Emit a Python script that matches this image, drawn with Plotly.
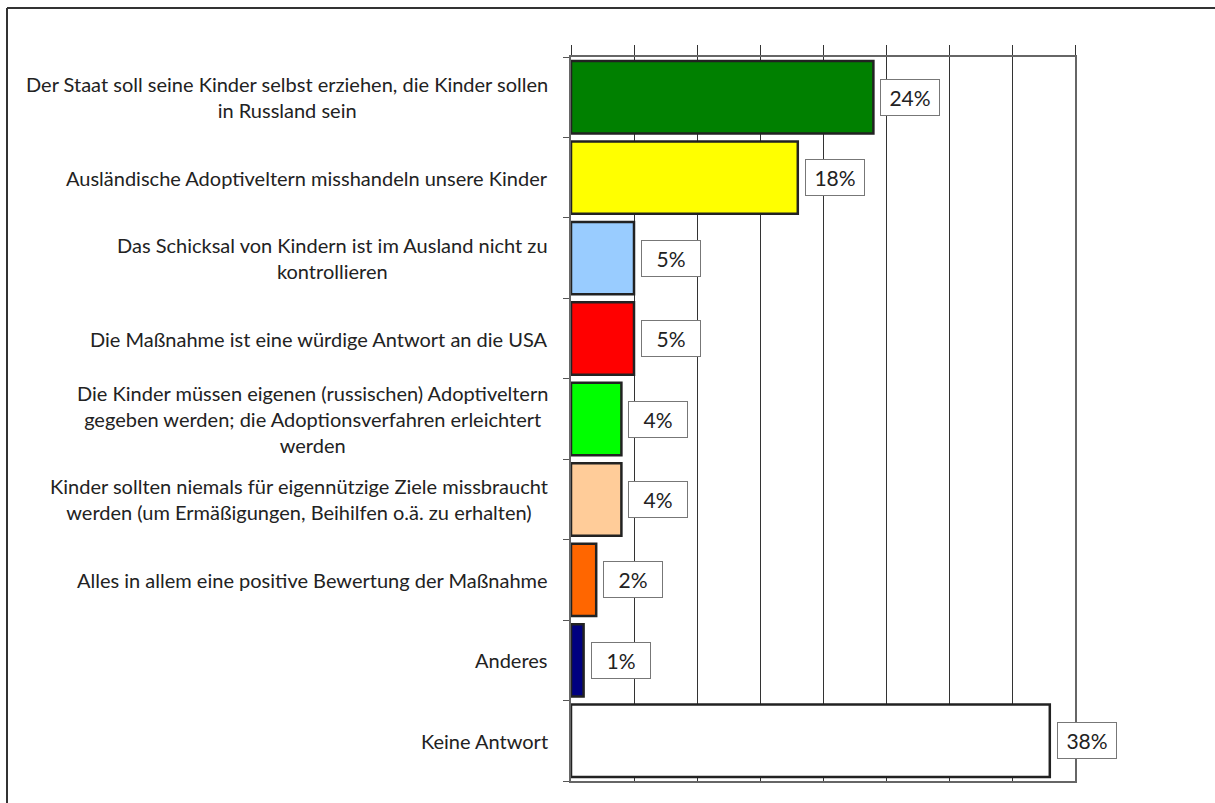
import plotly.graph_objects as go

categories = [
    "Der Staat soll seine Kinder selbst erziehen, die Kinder sollen<br>in Russland sein",
    "Ausländische Adoptiveltern misshandeln unsere Kinder",
    "Das Schicksal von Kindern ist im Ausland nicht zu<br>kontrollieren",
    "Die Maßnahme ist eine würdige Antwort an die USA",
    "Die Kinder müssen eigenen (russischen) Adoptiveltern<br>gegeben werden; die Adoptionsverfahren erleichtert<br>werden",
    "Kinder sollten niemals für eigennützige Ziele missbraucht<br>werden (um Ermäßigungen, Beihilfen o.ä. zu erhalten)",
    "Alles in allem eine positive Bewertung der Maßnahme",
    "Anderes",
    "Keine Antwort",
]
values = [24, 18, 5, 5, 4, 4, 2, 1, 38]
colors = ["#008000", "#FFFF00", "#99CCFF", "#FF0000", "#00FF00",
          "#FFCC99", "#FF6600", "#000080", "#FFFFFF"]
value_labels = [f"{v}%" for v in values]

FONT = "Lato"
W, H = 1215, 803
L, R, T, B = 571, 1075, 57, 781

fig = go.Figure()
fig.add_trace(go.Bar(
    x=values, y=list(range(len(categories))), orientation="h",
    marker=dict(color=colors, line=dict(color="#222222", width=2.5)),
    width=0.9, hoverinfo="skip",
))

annotations = []
for i, (c, v, lab) in enumerate(zip(categories, values, value_labels)):
    annotations.append(dict(
        x=0, xref="paper", y=i, yref="y", text=c, showarrow=False,
        xanchor="right", yanchor="middle", align="center", xshift=-21,
        font=dict(family=FONT, size=20, color="#222222"),
    ))
    annotations.append(dict(
        x=v, xref="x", y=i, yref="y", text=lab, showarrow=False,
        xanchor="left", yanchor="middle", xshift=7,
        bgcolor="white", bordercolor="#777777", borderwidth=1, borderpad=6,
        width=46, height=23,
        font=dict(family=FONT, size=21, color="#222222"),
    ))

pw, ph = R - L, B - T
ytop = (B - 8) / ph
xleft = (7 - L) / pw
shapes = [
    dict(type="line", xref="paper", yref="paper", x0=xleft, x1=(W + 20 - L) / pw,
         y0=ytop, y1=ytop, line=dict(color="#333333", width=2)),
    dict(type="line", xref="paper", yref="paper", x0=xleft, x1=xleft,
         y0=ytop, y1=-(H + 20 - B) / ph, line=dict(color="#333333", width=2)),
]

fig.update_layout(
    width=W, height=H,
    margin=dict(l=L, r=W - R, t=T, b=H - B, pad=0),
    paper_bgcolor="white", plot_bgcolor="white",
    showlegend=False,
    annotations=annotations, shapes=shapes,
    xaxis=dict(range=[0, 40], dtick=5, side="top", showticklabels=False,
               showgrid=True, gridcolor="#333333", gridwidth=1,
               showline=True, linecolor="#666666", linewidth=2, mirror=True,
               ticks="outside", ticklen=10, tickcolor="#333333", tickwidth=1,
               zeroline=False, fixedrange=True),
    yaxis=dict(range=[len(categories) - 0.5, -0.5], showticklabels=False,
               tickvals=[i - 0.5 for i in range(len(categories) + 1)],
               ticks="outside", ticklen=6, tickcolor="#555555", tickwidth=1,
               showgrid=False, showline=True, linecolor="#666666", linewidth=2,
               mirror=True, zeroline=False, fixedrange=True),
    bargap=0.1,
)

fig.write_html("out.html", config={"displayModeBar": False},
               post_script="document.body.style.margin='0px';document.body.style.overflow='hidden';")
